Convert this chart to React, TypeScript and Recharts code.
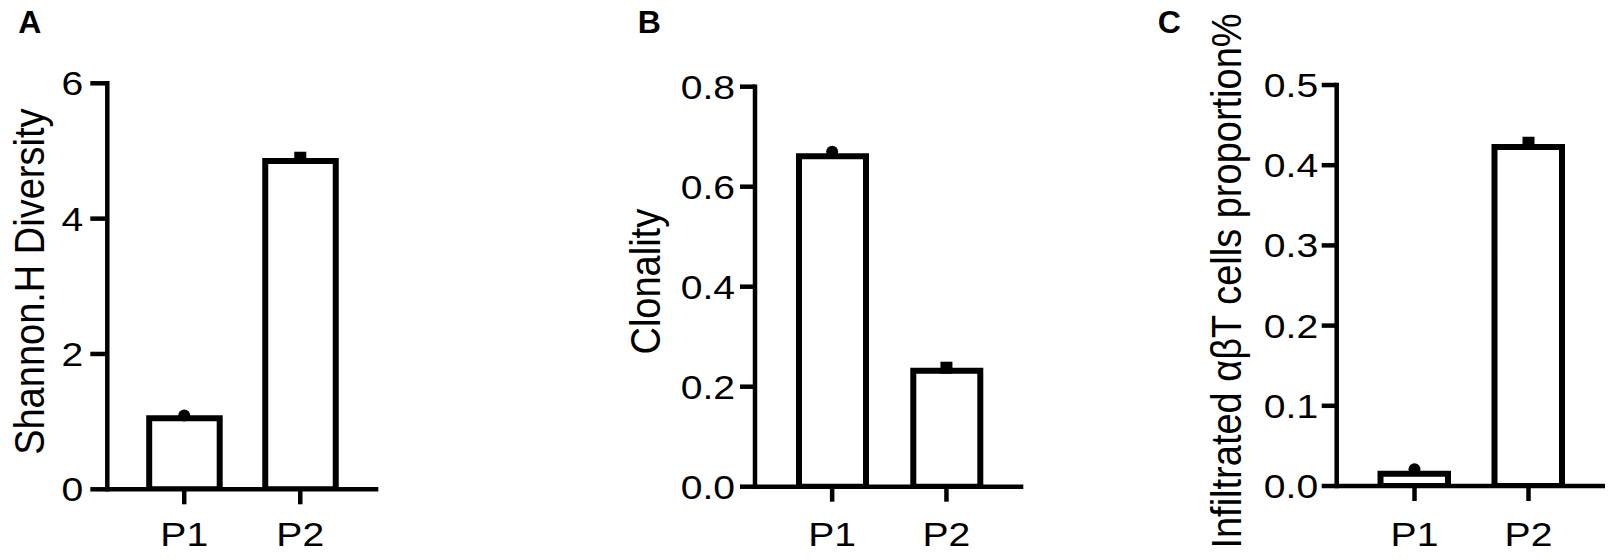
import React from 'react';
import { ComposedChart, Bar, Scatter, XAxis, YAxis } from 'recharts';

const categories = ['P1', 'P2'];

const shannonBars = [1.05, 4.85];
const shannonPoints = [1.09, 4.9];
const shannonTicks = [0, 2, 4, 6];

const clonalityBars = [0.661, 0.232];
const clonalityPoints = [0.67, 0.238];
const clonalityTicks = [0, 0.2, 0.4, 0.6, 0.8];

const infiltratedBars = [0.0153, 0.4227];
const infiltratedPoints = [0.021, 0.428];
const infiltratedTicks = [0, 0.1, 0.2, 0.3, 0.4, 0.5];

const FONT = '"Liberation Sans", Arial, Helvetica, sans-serif';
const TICK_SX = 1.15;
const TITLE_SX = 1.1;

type PanelCfg = {
  left: number;
  width: number;
  plotLeft: number;
  plotRight: number;
  plotTop: number;
  plotBottom: number;
  padL: number;
  padR: number;
  barSize: number;
  tickSize: number;
  tickMargin: number;
  titleX: number;
  titleY: number;
  title: string;
  bars: number[];
  points: number[];
  ticks: number[];
  decimals: number;
};

const YTick = (props: any) => {
  const { x, y, payload, decimals } = props;
  return (
    <text
      transform={`translate(${x},${y}) scale(${TICK_SX},1)`}
      textAnchor="end"
      dy="0.355em"
      fontSize={34}
      fontFamily={FONT}
      fill="#000"
    >
      {Number(payload.value).toFixed(decimals)}
    </text>
  );
};

const XTick = (props: any) => {
  const { x, payload } = props;
  return (
    <text
      transform={`translate(${x},545.5) scale(${TICK_SX},1)`}
      textAnchor="middle"
      fontSize={34}
      fontFamily={FONT}
      fill="#000"
    >
      {payload.value}
    </text>
  );
};

const Marker = (props: any) => {
  const { cx, cy, payload } = props;
  if (cx == null || cy == null) return null;
  if (payload && payload.name === categories[0]) {
    return <circle cx={cx} cy={cy} r={6} fill="#000" />;
  }
  return <rect x={cx - 6} y={cy - 6} width={12} height={12} fill="#000" />;
};

function Panel({ cfg }: { cfg: PanelCfg }) {
  const data = categories.map((name, i) => ({ name, bar: cfg.bars[i], point: cfg.points[i] }));
  const H = 559;
  const ticks = cfg.ticks;
  const axisStyle = { stroke: '#000', strokeWidth: 4.5, strokeLinecap: 'square' as const };
  return (
    <div style={{ position: 'absolute', left: cfg.left, top: 0 }}>
      <ComposedChart
        width={cfg.width}
        height={H}
        data={data}
        margin={{ top: cfg.plotTop, left: 0, right: cfg.width - cfg.plotRight, bottom: 0 }}
      >
        <XAxis
          dataKey="name"
          type="category"
          height={H - cfg.plotBottom}
          padding={{ left: cfg.padL, right: cfg.padR }}
          axisLine={{ stroke: '#000', strokeWidth: 4.5 }}
          tickLine={{ stroke: '#000', strokeWidth: 4.5 }}
          tickSize={15}
          tickMargin={0}
          tick={<XTick />}
          interval={0}
        />
        <YAxis
          type="number"
          width={cfg.plotLeft}
          domain={[ticks[0], ticks[ticks.length - 1]]}
          ticks={ticks}
          interval={0}
          allowDataOverflow
          axisLine={axisStyle}
          tickLine={{ stroke: '#000', strokeWidth: 4.5 }}
          tickSize={cfg.tickSize}
          tickMargin={cfg.tickMargin}
          tick={<YTick decimals={cfg.decimals} />}
          label={{
            content: () => (
              <text
                transform={`translate(${cfg.titleX},${cfg.titleY}) scale(${TITLE_SX},1) rotate(-90)`}
                textAnchor="middle"
                fontSize={38}
                fontFamily={FONT}
                fill="#000"
              >
                {cfg.title}
              </text>
            ),
          }}
        />
        <Bar
          dataKey="bar"
          barSize={cfg.barSize}
          fill="#fff"
          stroke="#000"
          strokeWidth={6}
          isAnimationActive={false}
        />
        <Scatter dataKey="point" shape={<Marker />} isAnimationActive={false} />
      </ComposedChart>
    </div>
  );
}

const panelA: PanelCfg = {
  left: 0,
  width: 400,
  plotLeft: 107.3,
  plotRight: 378.3,
  plotTop: 83.3,
  plotBottom: 489.3,
  padL: 18.9,
  padR: 20,
  barSize: 70.5,
  tickSize: 17,
  tickMargin: 7,
  titleX: 43.5,
  titleY: 281.7,
  title: 'Shannon.H Diversity',
  bars: shannonBars,
  points: shannonPoints,
  ticks: shannonTicks,
  decimals: 0,
};

const panelB: PanelCfg = {
  left: 520,
  width: 520,
  plotLeft: 235,
  plotRight: 503.3,
  plotTop: 86.7,
  plotBottom: 486.7,
  padL: 20,
  padR: 19.7,
  barSize: 67,
  tickSize: 15,
  tickMargin: 5,
  titleX: 140,
  titleY: 281.7,
  title: 'Clonality',
  bars: clonalityBars,
  points: clonalityPoints,
  ticks: clonalityTicks,
  decimals: 1,
};

const panelC: PanelCfg = {
  left: 1140,
  width: 480,
  plotLeft: 196.7,
  plotRight: 465,
  plotTop: 85,
  plotBottom: 486,
  padL: 20.8,
  padR: 19.5,
  barSize: 67.5,
  tickSize: 15,
  tickMargin: 3.5,
  titleX: 101,
  titleY: 281,
  title: 'Infiltrated αβT cells proportion%',
  bars: infiltratedBars,
  points: infiltratedPoints,
  ticks: infiltratedTicks,
  decimals: 1,
};

export default function App() {
  return (
    <div
      style={{
        position: 'absolute',
        left: 0,
        top: 0,
        width: 1620,
        height: 559,
        background: '#fff',
        overflow: 'hidden',
        fontFamily: FONT,
      }}
    >
      <Panel cfg={panelA} />
      <Panel cfg={panelB} />
      <Panel cfg={panelC} />
      <svg width={1620} height={60} style={{ position: 'absolute', left: 0, top: 0 }}>
        <text x={18.3} y={32.7} fontSize={32} fontWeight="bold" fontFamily={FONT} fill="#000">A</text>
        <text x={637.7} y={32.7} fontSize={32} fontWeight="bold" fontFamily={FONT} fill="#000">B</text>
        <text x={1157.8} y={32.7} fontSize={32} fontWeight="bold" fontFamily={FONT} fill="#000">C</text>
      </svg>
    </div>
  );
}
